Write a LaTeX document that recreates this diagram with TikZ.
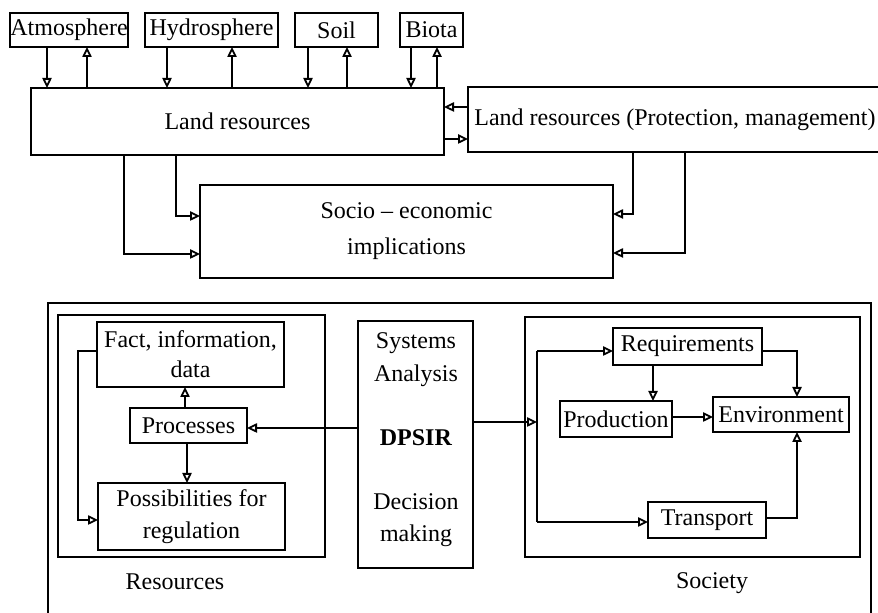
\documentclass[tikz,border=0pt]{standalone}
\usepackage{fontspec}
\setmainfont{Liberation Serif}
\usetikzlibrary{arrows.meta}
\begin{document}
\begin{tikzpicture}[x=0.5pt,y=-0.5pt,
  font=\fontsize{12}{16}\selectfont,
  box/.style={draw, line width=0.9pt, inner sep=0pt, outer sep=0pt, align=center},
  size/.style args={#1x#2}{minimum width={#1*0.5pt}, minimum height={#2*0.5pt}},
  arr/.style={line width=1pt, -{Triangle[open,length=5pt,width=4.6pt,line width=0.9pt]}},
  conn/.style={line width=1pt}]
\useasboundingbox (0,0) rectangle (878,613);
\clip (0,0) rectangle (878,613);

% ---- upper diagram: spheres and land resources ----
\node[box, size=118x34] (atm)  at (69,30)    {Atmosphere};
\node[box, size=133x34] (hyd)  at (211.5,30) {Hydrosphere};
\node[box, size=83x34]  (soil) at (336.5,30) {Soil};
\node[box, size=63x34]  (bio)  at (431.5,30) {Biota};
\node[box, size=413x67] (land) at (237.5,121.5) {Land resources};
\node[box, size=414x65] (prot) at (675,119.5) {Land resources (Protection, management)};
\node[box, size=413x93] (socio) at (406.5,231.5) {Socio -- economic\\[2pt]implications};

\draw[arr] (atm.south -| 47,0)   -- (land.north -| 47,0);
\draw[arr] (land.north -| 87,0)  -- (atm.south -| 87,0);
\draw[arr] (hyd.south -| 167,0)  -- (land.north -| 167,0);
\draw[arr] (land.north -| 232,0) -- (hyd.south -| 232,0);
\draw[arr] (soil.south -| 308,0) -- (land.north -| 308,0);
\draw[arr] (land.north -| 347,0) -- (soil.south -| 347,0);
\draw[arr] (bio.south -| 411,0)  -- (land.north -| 411,0);
\draw[arr] (land.north -| 437,0) -- (bio.south -| 437,0);

\draw[arr] (prot.west |- 0,107) -- (land.east |- 0,107);
\draw[arr] (land.east |- 0,139) -- (prot.west |- 0,139);

\draw[arr] (land.south -| 176,0) |- (socio.west |- 0,216);
\draw[arr] (land.south -| 124,0) |- (socio.west |- 0,254);
\draw[arr] (prot.south -| 633,0) |- (socio.east |- 0,214);
\draw[arr] (prot.south -| 685,0) |- (socio.east |- 0,253);

% ---- lower diagram: resources, DPSIR, society ----
\node[box, size=823x357] (outer)  at (459.5,481.5) {};
\node[box, size=267x242] (resbox) at (191.5,436) {};
\node[box, size=187x65]  (fact)   at (190.5,354.5) {Fact, information,\\[-1pt]data};
\node[box, size=117x35]  (proc)   at (188.5,425.5) {Processes};
\node[box, size=187x67]  (poss)   at (191.5,516.5) {Possibilities for\\regulation};
\node (reslabel) at (175,582) {Resources};

\node[box, size=115x247] (dpsir) at (415.5,444.5) {};
\node[align=center, inner sep=0pt] (dpsirtext) at (416,440)
  {Systems\\[0.5pt]Analysis\\[16pt]\textbf{DPSIR}\\[16pt]Decision\\making};

\node[box, size=335x240] (socbox) at (692.5,437) {};
\node[box, size=149x37]  (req)    at (687.5,346.5) {Requirements};
\node[box, size=112x36]  (prod)   at (616,419) {Production};
\node[box, size=136x35]  (env)    at (781,414.5) {Environment};
\node[box, size=118x36]  (trans)  at (707,520) {Transport};
\node (soclabel) at (712,583) {Society};

% resources side
\coordinate (loopcorner) at (78,520);
\draw[arr] (proc.north -| 185,0) -- (fact.south -| 185,0);
\draw[arr] (proc.south -| 187,0) -- (poss.north -| 187,0);
\draw[arr] (fact.west |- 0,351) -| (loopcorner) -- (poss.west |- loopcorner);
\draw[arr] (dpsir.west |- 0,428) -- (proc.east |- 0,428);

% society side
\coordinate (split) at (537,422);
\draw[arr] (dpsir.east |- split) -- (split);
\draw[conn] (split |- 0,351) -- (split |- 0,522);
\draw[arr] (split |- 0,351) -- (req.west |- 0,351);
\draw[arr] (split |- 0,522) -- (trans.west |- 0,522);
\draw[arr] (req.south -| 653,0) -- (prod.north -| 653,0);
\draw[arr] (req.east |- 0,351) -| (env.north -| 797,0);
\draw[arr] (prod.east |- 0,417) -- (env.west |- 0,417);
\draw[arr] (trans.east |- 0,518) -| (env.south -| 797,0);
\end{tikzpicture}
\end{document}
